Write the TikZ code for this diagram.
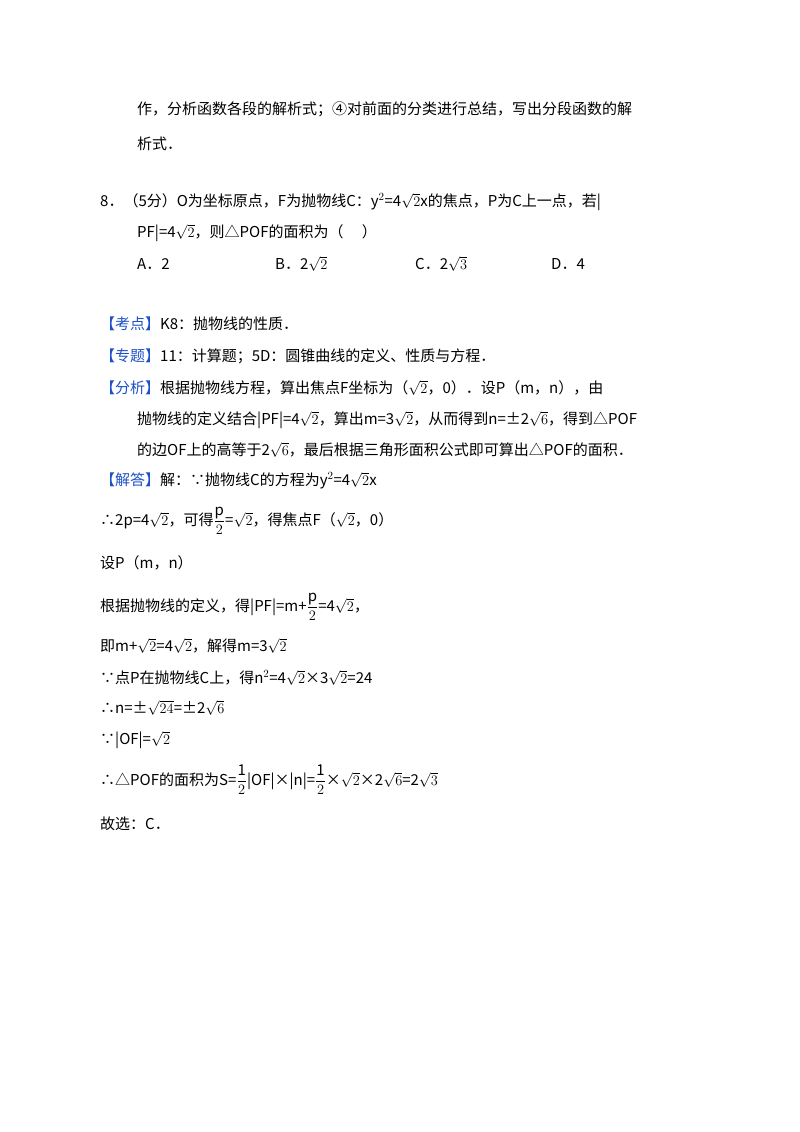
\documentclass[tikz,border=0pt]{standalone}
\usepackage{amsmath}
\usepackage{fontspec}
\setmainfont{Noto Sans CJK SC}
\usepackage{xcolor}
\definecolor{kd}{RGB}{30,80,200}
\begin{document}
\begin{tikzpicture}[x=1pt,y=-1pt,
  t/.style={anchor=base west,inner sep=0pt,font=\fontsize{15}{18}\selectfont}]
\useasboundingbox[fill=white] (0,0) rectangle (800,1132);
\newcommand{\kd}[1]{\textcolor{kd}{【#1】}}
\newcommand{\fr}[2]{$\dfrac{\mathrm{#1}}{#2}$}
\node[t] (l1) at (137,114) {作，分析函数各段的解析式；④对前面的分类进行总结，写出分段函数的解};
\node[t] (l2) at (137,149) {析式．};
\node[t] (l3) at (100,206) {8．（5分）O为坐标原点，F为抛物线C：y$^2$=4$\sqrt{2}$x的焦点，P为C上一点，若|};
\node[t] (l4) at (137,237) {PF|=4$\sqrt{2}$，则△POF的面积为（\quad\ ）};
\node[t] (oa) at (137,269) {A．2};
\node[t] (ob) at (275,269) {B．2$\sqrt{2}$};
\node[t] (oc) at (415,269) {C．2$\sqrt{3}$};
\node[t] (od) at (551,269) {D．4};
\node[t] (k1) at (100,329) {\kd{考点}K8：抛物线的性质．};
\node[t] (k2) at (100,361) {\kd{专题}11：计算题；5D：圆锥曲线的定义、性质与方程．};
\node[t] (k3) at (100,393) {\kd{分析}根据抛物线方程，算出焦点F坐标为（$\sqrt{2}$，0）．设P（m，n），由};
\node[t] (k4) at (137,424) {抛物线的定义结合|PF|=4$\sqrt{2}$，算出m=3$\sqrt{2}$，从而得到n=±2$\sqrt{6}$，得到△POF};
\node[t] (k5) at (137,455) {的边OF上的高等于2$\sqrt{6}$，最后根据三角形面积公式即可算出△POF的面积．};
\node[t] (k6) at (100,485) {\kd{解答}解：∵抛物线C的方程为y$^2$=4$\sqrt{2}$x};
\node[t] (s1) at (100,525) {∴2p=4$\sqrt{2}$，可得\fr{p}{2}=$\sqrt{2}$，得焦点F（$\sqrt{2}$，0）};
\node[t] (s2) at (100,568) {设P（m，n）};
\node[t] (s3) at (100,611) {根据抛物线的定义，得|PF|=m+\fr{p}{2}=4$\sqrt{2}$，};
\node[t] (s4) at (100,651) {即m+$\sqrt{2}$=4$\sqrt{2}$，解得m=3$\sqrt{2}$};
\node[t] (s5) at (100,683) {∵点P在抛物线C上，得n$^2$=4$\sqrt{2}$×3$\sqrt{2}$=24};
\node[t] (s6) at (100,713) {∴n=±$\sqrt{24}$=±2$\sqrt{6}$};
\node[t] (s7) at (100,744) {∵|OF|=$\sqrt{2}$};
\node[t] (s8) at (100,785) {∴△POF的面积为S=\fr{1}{2}|OF|×|n|=\fr{1}{2}×$\sqrt{2}$×2$\sqrt{6}$=2$\sqrt{3}$};
\node[t] (s9) at (100,829) {故选：C．};
\end{tikzpicture}
\end{document}
